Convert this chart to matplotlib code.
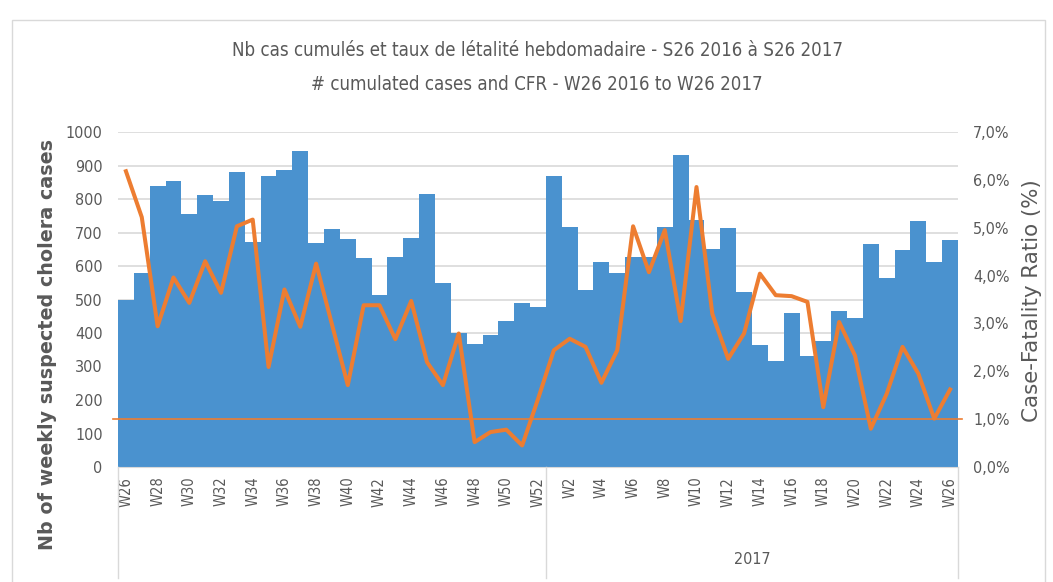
# %% Packages

import numpy as np
import matplotlib
matplotlib.use('Agg')
import matplotlib.pyplot as plt
from matplotlib.patches import Rectangle
from matplotlib.ticker import FuncFormatter

# %% Data

weeks_2016 = ['W%d' % w for w in range(26, 53)]
weeks_2017 = ['W%d' % w for w in range(1, 27)]
weeks = weeks_2016 + weeks_2017

cases_2016 = [500, 580, 840, 855, 755, 812, 795, 880, 672, 870, 888, 942, 668, 710,
              680, 623, 512, 627, 685, 816, 550, 400, 366, 395, 437, 490, 478]
cases_2017 = [870, 717, 528, 612, 578, 627, 627, 716, 931, 736, 650, 712, 522, 363,
              316, 461, 330, 376, 465, 446, 667, 565, 649, 733, 612, 679]

cfr_2016 = [6.18, 5.22, 2.94, 3.96, 3.43, 4.30, 3.64, 5.03, 5.17, 2.09, 3.71, 2.93, 4.25,
            2.98, 1.71, 3.38, 3.38, 2.67, 3.47, 2.19, 1.71, 2.79, 0.52, 0.73, 0.78, 0.45, 1.42]
cfr_2017 = [2.44, 2.68, 2.51, 1.76, 2.44, 5.03, 4.07, 4.95, 3.05, 5.85, 3.20, 2.26, 2.79,
            4.04, 3.59, 3.57, 3.45, 1.25, 3.03, 2.33, 0.80, 1.53, 2.51, 1.95, 1.01, 1.62]

cases = cases_2016 + cases_2017
cfr = np.array(cfr_2016 + cfr_2017) / 100.0
threshold = 0.01

year_label = '2017'
title_fr = 'Nb cas cumulés et taux de létalité hebdomadaire - S26 2016 à S26 2017'
title_en = '# cumulated cases and CFR - W26 2016 to W26 2017'

# %% Plot

cond = dict(family='DejaVu Sans', stretch='condensed')
grey = '#595959'
blue = '#4a92cf'
orange = '#ed7d31'

x = np.arange(len(weeks))

fig = plt.figure(figsize=(10.53, 5.82), dpi=100)
ax = fig.add_axes([118/1053, 1 - 467/582, 840/1053, 335/582])
ax2 = ax.twinx()

ax.set_axisbelow(True)
ax.grid(axis='y', color='#d9d9d9', linewidth=1.2)
ax.bar(x, cases, width=1.0, color=blue, zorder=2)
ax.set_xlim(-0.5, len(weeks) - 0.5)
ax.set_ylim(0, 1000)
ax.set_yticks(np.arange(0, 1001, 100))

ax2.plot(x, cfr, color=orange, linewidth=2.9, solid_joinstyle='round', zorder=3)
ax2.axhline(threshold, xmin=-0.006, xmax=1.005, color=orange, linewidth=1.2, clip_on=False)
ax2.set_ylim(0, 0.07)
ax2.set_yticks(np.arange(0, 0.0701, 0.01))
ax2.yaxis.set_major_formatter(FuncFormatter(lambda v, p: ('%.1f%%' % (v * 100)).replace('.', ',')))

for a in (ax, ax2):
    for s in a.spines.values():
        s.set_visible(False)
    a.tick_params(length=0, colors=grey)
ax.spines['bottom'].set_visible(True)
ax.spines['bottom'].set_color('#d9d9d9')

ax.set_xticks(x[::2])
ax.set_xticklabels(weeks[::2], rotation=90, fontsize=10.5, color=grey, **cond)
ax.tick_params(axis='x', pad=7)
for lab in ax.get_yticklabels() + ax2.get_yticklabels():
    lab.set_fontsize(11.5)
    lab.set_family(cond['family'])
    lab.set_stretch(cond['stretch'])
ax.tick_params(axis='y', pad=11)
ax2.tick_params(axis='y', pad=11)

ax.set_ylabel('Nb of weekly suspected cholera cases', fontsize=13.8, color=grey,
              fontweight='semibold')
ax.yaxis.set_label_coords(-0.0726, 0.367)
ax2.set_ylabel('Case-Fatality Ratio (%)', fontsize=15.4, color=grey)
ax2.yaxis.set_label_coords(1.076, 0.496)

# multi-level category separators
tr = ax.get_xaxis_transform()
depth = -(578 - 467) / 335
for xs in (-0.5, len(weeks_2016) - 0.5, len(weeks) - 0.5):
    ax.plot([xs, xs], [0, depth], transform=tr, color='#d9d9d9', linewidth=1, clip_on=False)
ax.text((len(weeks_2016) - 0.5 + len(weeks) - 0.5) / 2, -(560 - 467) / 335, year_label,
        transform=tr, ha='center', va='center', fontsize=11.5, color=grey, **cond)

fig.text(537/1053, 1 - 50/582, title_fr, ha='center', va='center', fontsize=13.4,
         color=grey, **cond)
fig.text(537/1053, 1 - 85/582, title_en, ha='center', va='center', fontsize=13.4,
         color=grey, **cond)

fig.patches.append(Rectangle((12/1053, -0.01), (1045 - 12)/1053, 1 - 20/582 + 0.01,
                             transform=fig.transFigure, fill=False,
                             edgecolor='#d9d9d9', linewidth=1))

fig.savefig('out.png', dpi=100)
